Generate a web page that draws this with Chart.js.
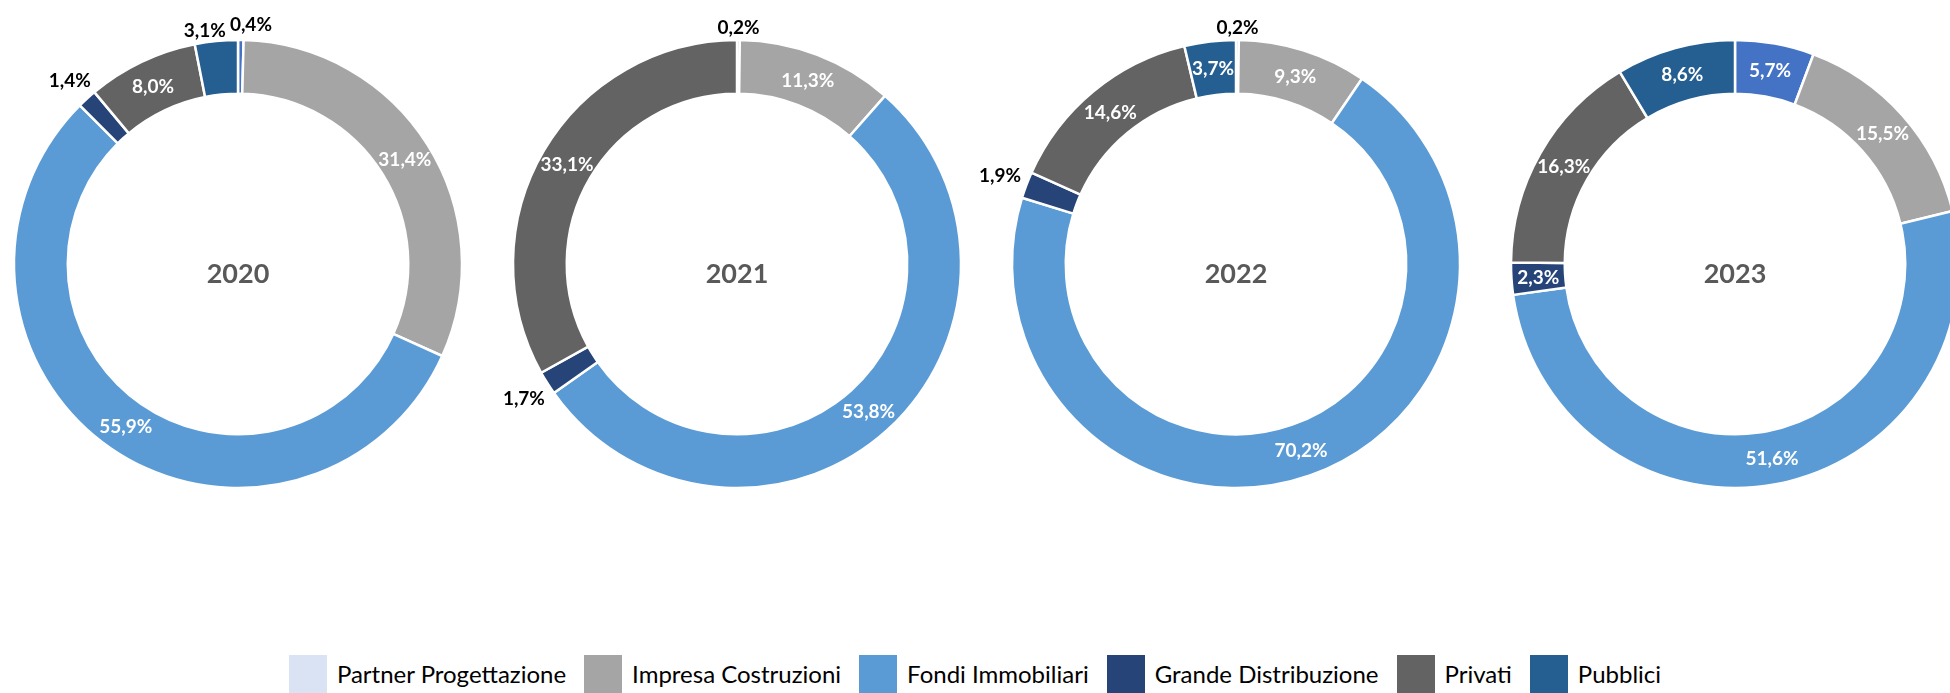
<!DOCTYPE html>
<html>
<head>
<meta charset="utf-8">
<script src="https://cdn.jsdelivr.net/npm/chart.js@4/dist/chart.umd.min.js"></script>
<style>
  html, body { margin: 0; padding: 0; background: #fff; }
  body { width: 1950px; height: 693px; overflow: hidden; position: relative; font-family: Lato, "Open Sans", sans-serif; }
  .ring { position: absolute; top: 0; width: 600px; height: 528px; }
  #legend { position: absolute; left: 0; right: 0; top: 655px; display: flex; justify-content: center; align-items: center; }
  .item { display: flex; align-items: center; margin: 0 9px; }
  .box { width: 38px; height: 38px; margin-right: 10px; }
  .txt { font-size: 24px; color: #000; line-height: 38px; white-space: nowrap; }
</style>
</head>
<body>
<canvas id="c0" class="ring" width="600" height="528"></canvas>
<canvas id="c1" class="ring" width="600" height="528"></canvas>
<canvas id="c2" class="ring" width="600" height="528"></canvas>
<canvas id="c3" class="ring" width="600" height="528"></canvas>
<div id="legend"></div>
<script>
const years = ['2020', '2021', '2022', '2023'];
const categories = ['Partner Progettazione', 'Impresa Costruzioni', 'Fondi Immobiliari', 'Grande Distribuzione', 'Privati', 'Pubblici'];
const share2020 = [0.4, 31.4, 55.9, 1.4, 8.0, 3.1];
const share2021 = [0.2, 11.3, 53.8, 1.7, 33.1, 0];
const share2022 = [0.2, 9.3, 70.2, 1.9, 14.6, 3.7];
const share2023 = [5.7, 15.5, 51.6, 2.3, 16.3, 8.6];
const shares = [share2020, share2021, share2022, share2023];

const sliceColors = ['#4472C4', '#A5A5A5', '#5B9BD5', '#264478', '#636363', '#255E91'];
const legendColors = ['#DAE3F3', '#A5A5A5', '#5B9BD5', '#264478', '#636363', '#255E91'];

// does the label box fit inside its ring segment?
function fits(p, cx, cy, w, h) {
    const corners = [[-w / 2, -h / 2], [w / 2, -h / 2], [-w / 2, h / 2], [w / 2, h / 2]];
    return corners.every(([dx, dy]) => {
        const x = cx + dx - p.x, y = cy + dy - p.y;
        const r = Math.hypot(x, y);
        if (r < p.innerRadius || r > p.outerRadius) return false;
        let a = Math.atan2(y, x);
        while (a < p.startAngle) a += 2 * Math.PI;
        while (a > p.startAngle + 2 * Math.PI) a -= 2 * Math.PI;
        return a <= p.endAngle;
    });
}

const ringLabels = {
    id: 'ringLabels',
    afterDatasetsDraw(chart) {
        const ctx = chart.ctx;
        const meta = chart.getDatasetMeta(0);
        const values = chart.data.datasets[0].data;
        ctx.save();
        ctx.font = 'bold 19px Lato';
        ctx.textAlign = 'center';
        ctx.textBaseline = 'alphabetic';
        const h = 14;
        const labels = [];
        meta.data.forEach((arc, i) => {
            const v = values[i];
            if (!v) return;
            const txt = v.toFixed(1).replace('.', ',') + '%';
            const p = arc.getProps(['x', 'y', 'startAngle', 'endAngle', 'innerRadius', 'outerRadius'], true);
            const mid = (p.startAngle + p.endAngle) / 2;
            const w = ctx.measureText(txt).width;
            const rMid = (p.innerRadius + p.outerRadius) / 2;
            let lx = p.x + Math.cos(mid) * rMid;
            let ly = p.y + Math.sin(mid) * rMid;
            const inside = fits(p, lx, ly, w * 0.95, h);
            if (!inside) {
                const c = Math.abs(Math.cos(mid)), s = Math.abs(Math.sin(mid));
                const r = p.outerRadius + c * w / 2 + s * h / 2 + 6;
                lx = p.x + Math.cos(mid) * r;
                ly = p.y + Math.sin(mid) * r;
            }
            labels.push({ txt, x: lx, y: ly, w, inside });
        });
        // push apart outside labels that collide
        const outs = labels.filter(l => !l.inside);
        for (let a = 0; a < outs.length; a++) {
            for (let b = a + 1; b < outs.length; b++) {
                const A = outs[a], B = outs[b];
                if (Math.abs(A.y - B.y) > h + 2) continue;
                const need = (A.w + B.w) / 2 + 4 - Math.abs(A.x - B.x);
                if (need > 0) {
                    const dir = A.x < B.x ? -1 : 1;
                    A.x += dir * need / 2;
                    B.x -= dir * need / 2;
                    A.y -= 3;
                    B.y += 4;
                }
            }
        }
        labels.forEach(l => {
            ctx.fillStyle = l.inside ? '#fff' : '#000';
            ctx.fillText(l.txt, l.x, l.y + h / 2);
        });
        // year in the hole
        const a0 = meta.data[0];
        ctx.font = 'bold 27px Lato';
        ctx.fillStyle = '#595959';
        ctx.fillText(chart.options.plugins.ringLabels.year, a0.x, a0.y + 19);
        ctx.restore();
    }
};

const charts = [];
years.forEach((year, k) => {
    const el = document.getElementById('c' + k);
    el.style.left = (238 - 300 + 499 * k) + 'px';
    charts.push(new Chart(el, {
        type: 'doughnut',
        data: {
            labels: categories,
            datasets: [{
                data: shares[k],
                backgroundColor: sliceColors,
                borderColor: '#fff',
                borderWidth: 2.5,
                hoverOffset: 0
            }]
        },
        options: {
            responsive: false,
            maintainAspectRatio: false,
            animation: false,
            radius: 224,
            cutout: '76%',
            layout: { padding: 0 },
            events: [],
            plugins: {
                legend: { display: false },
                tooltip: { enabled: false },
                ringLabels: { year: year }
            }
        },
        plugins: [ringLabels]
    }));
});

const legend = document.getElementById('legend');
categories.forEach((name, i) => {
    const item = document.createElement('div');
    item.className = 'item';
    item.innerHTML = '<div class="box" style="background:' + legendColors[i] + '"></div><span class="txt">' + name + '</span>';
    legend.appendChild(item);
});
</script>
</body>
</html>
